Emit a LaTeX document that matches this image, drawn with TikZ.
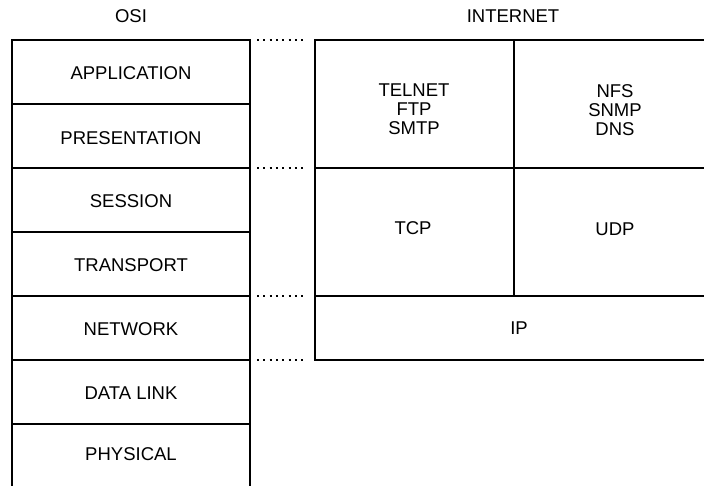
\documentclass[tikz,border=0pt]{standalone}
\usepackage{fontspec}
\setmainfont{Liberation Sans}
\begin{document}
\begin{tikzpicture}[x=1pt,y=-1pt,
  lbl/.style={font=\fontsize{18.5}{18.8}\selectfont, inner sep=0pt, align=center},
  box/.style={draw, line width=1.8pt},
  dots/.style={line width=2pt, dash pattern=on 2pt off 4.3pt}]
\useasboundingbox (0,0) rectangle (704,485);
\clip (0,0) rectangle (704,485);
% OSI column
\draw[box] (12,490) -- (12,40) -- (250,40) -- (250,490);
\foreach \y in {104,168,232,296,360,424,488} \draw[box] (12,\y) -- (250,\y);
% Internet column
\draw[box] (716,40) -- (315,40) -- (315,360) -- (716,360);
\draw[box] (315,168) -- (716,168);
\draw[box] (315,296) -- (716,296);
\draw[box] (514,40) -- (514,296);
% dotted links
\foreach \y in {40,168,296,360} \draw[dots] (257,\y) -- (305,\y);
% headers
\node[lbl] (osi) at (131,16) {OSI};
\node[lbl] (inet) at (513,16) {INTERNET};
% OSI layers
\node[lbl] (app) at (131,73) {APPLICATION};
\node[lbl] (pres) at (131,138) {PRESENTATION};
\node[lbl] (sess) at (131,201) {SESSION};
\node[lbl] (trans) at (131,265) {TRANSPORT};
\node[lbl] (net) at (131,329) {NETWORK};
\node[lbl] (dl) at (131,393) {DATA LINK};
\node[lbl] (phys) at (131,454) {PHYSICAL};
% Internet protocols
\node[lbl] (apps1) at (414,109) {TELNET\\FTP\\SMTP};
\node[lbl] (apps2) at (615,110) {NFS\\SNMP\\DNS};
\node[lbl] (tcp) at (413,228.5) {TCP};
\node[lbl] (udp) at (615,229.5) {UDP};
\node[lbl] (ip) at (519,328.5) {IP};
\end{tikzpicture}
\end{document}
